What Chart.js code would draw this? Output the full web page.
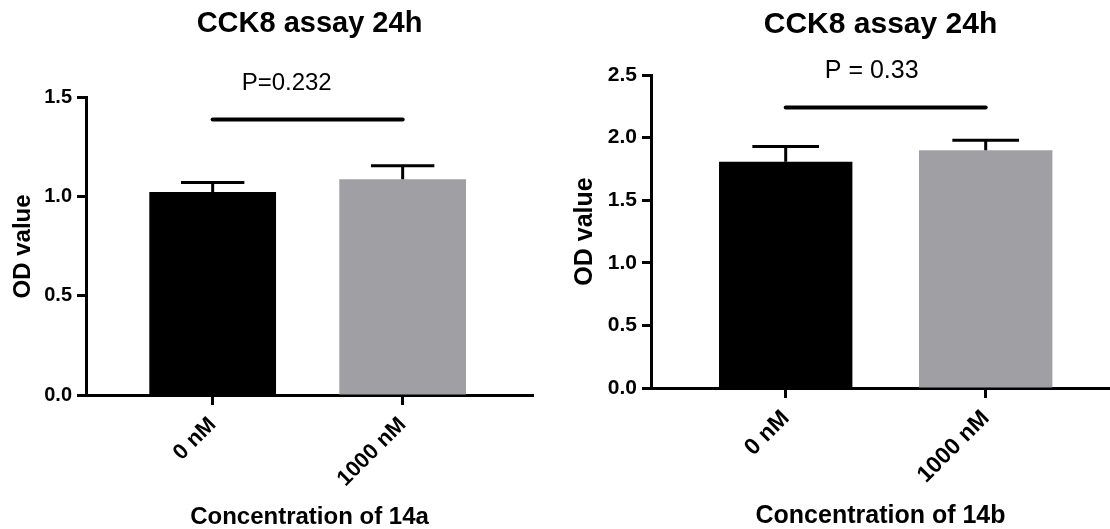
<!DOCTYPE html>
<html>
<head>
<meta charset="utf-8">
<title>CCK8 assay 24h</title>
<script src="https://cdn.jsdelivr.net/npm/chart.js@4.4.0/dist/chart.umd.min.js"></script>
<style>
  body { margin: 0; background: #fff; }
  #wrap { position: relative; width: 1110px; height: 529px; }
  canvas { position: absolute; top: 0; }
  #chartA { left: 0; }
  #chartB { left: 555px; }
</style>
</head>
<body>
<div id="wrap">
  <canvas id="chartA" width="555" height="529"></canvas>
  <canvas id="chartB" width="555" height="529"></canvas>
</div>
<script>
// groups (same for both panels)
const groups = ['0 nM', '1000 nM'];
const groupPos = [1, 2];
const barColors = ['#000000', '#a09fa4'];

// panel A - 14a
const meanA = [1.024, 1.089];
const sdA = [0.048, 0.068];
const yTicksA = [0, 0.5, 1.0, 1.5];
const sigLevelA = 1.39;
const pLabelA = 'P=0.232';

// panel B - 14b
const meanB = [1.808, 1.898];
const sdB = [0.12, 0.08];
const yTicksB = [0, 0.5, 1.0, 1.5, 2.0, 2.5];
const sigLevelB = 2.24;
const pLabelB = 'P = 0.33';

const FONT = "'Liberation Sans', Arial, sans-serif";

// mean + SD bars, then the bar over both groups with the p value
const errorBars = {
  id: 'errorBars',
  afterDatasetsDraw(chart, args, opts) {
    const ctx = chart.ctx;
    const x = chart.scales.x, y = chart.scales.y;
    const meta = chart.getDatasetMeta(0);
    ctx.save();
    ctx.strokeStyle = '#000';
    ctx.lineWidth = 3;
    opts.mean.forEach((m, i) => {
      const px = x.getPixelForValue(groupPos[i]);
      const half = meta.data[i].width / 4;
      const yTop = y.getPixelForValue(m);
      const yErr = y.getPixelForValue(m + opts.sd[i]);
      ctx.beginPath();
      ctx.moveTo(px, yTop);
      ctx.lineTo(px, yErr);
      ctx.moveTo(px - half, yErr);
      ctx.lineTo(px + half, yErr);
      ctx.stroke();
    });

    const x1 = x.getPixelForValue(groupPos[0]);
    const x2 = x.getPixelForValue(groupPos[1]);
    const ys = y.getPixelForValue(opts.sig);
    ctx.lineWidth = 4;
    ctx.lineCap = 'round';
    ctx.beginPath();
    ctx.moveTo(x1, ys);
    ctx.lineTo(x2, ys);
    ctx.stroke();

    ctx.fillStyle = '#000';
    ctx.font = opts.pSize + 'px ' + FONT;
    ctx.textAlign = 'center';
    ctx.textBaseline = 'middle';
    ctx.fillText(opts.text, (x1 + x2) / 2 + opts.textShift, ys - opts.textGap);
    ctx.restore();
  }
};

function makeChart(id, mean, sd, yTicks, sig, pText, xTitle, o) {
  const bold = size => ({ family: FONT, size: size, weight: 'bold' });
  return new Chart(document.getElementById(id), {
    type: 'bar',
    data: {
      datasets: [{
        data: mean.map((v, i) => ({ x: groupPos[i], y: v })),
        backgroundColor: barColors,
        borderWidth: 0,
        categoryPercentage: 1,
        barPercentage: 0.667
      }]
    },
    options: {
      responsive: false,
      animation: false,
      devicePixelRatio: 1,
      layout: { padding: { left: 0, right: o.padRight, top: 0, bottom: 0 } },
      plugins: {
        legend: { display: false },
        tooltip: { enabled: false },
        title: {
          display: true,
          text: 'CCK8 assay 24h',
          fullSize: false,
          color: '#000',
          font: bold(o.titleSize),
          padding: { top: o.titleTop, bottom: o.titleBottom }
        },
        errorBars: {
          mean: mean, sd: sd, sig: sig, text: pText,
          pSize: o.pSize, textShift: o.textShift, textGap: 36
        }
      },
      scales: {
        x: {
          type: 'linear',
          min: o.xMin,
          max: o.xMax,
          offset: false,
          z: 1,
          afterBuildTicks: ax => { ax.ticks = groupPos.map(v => ({ value: v })); },
          afterFit: ax => { ax.height = o.xAxisH; },
          ticks: {
            callback: (v, i) => groups[i],
            minRotation: 45,
            maxRotation: 45,
            color: '#000',
            font: bold(o.xTickSize),
            padding: 7
          },
          grid: {
            offset: false,
            drawOnChartArea: false,
            drawTicks: true,
            tickLength: 10,
            tickWidth: 3,
            tickColor: '#000'
          },
          border: { color: '#000', width: 3 },
          title: {
            display: true,
            text: xTitle,
            color: '#000',
            font: { family: FONT, size: o.axisTitleSize, weight: 'bold', lineHeight: 1 },
            padding: 0
          }
        },
        y: {
          min: yTicks[0],
          max: yTicks[yTicks.length - 1],
          z: 1,
          afterBuildTicks: ax => { ax.ticks = yTicks.map(v => ({ value: v })); },
          afterFit: ax => { ax.width = o.yAxisW; },
          ticks: {
            callback: v => v.toFixed(1),
            color: '#000',
            font: bold(o.tickSize),
            padding: 5
          },
          grid: {
            drawOnChartArea: false,
            drawTicks: true,
            tickLength: 9,
            tickWidth: 3,
            tickColor: '#000'
          },
          border: { color: '#000', width: 3 },
          title: {
            display: true,
            text: 'OD value',
            color: '#000',
            font: bold(o.axisTitleSize),
            padding: { top: o.yTitlePad, bottom: 0 }
          }
        }
      }
    },
    plugins: [errorBars]
  });
}

makeChart('chartA', meanA, sdA, yTicksA, sigLevelA, pLabelA, 'Concentration of 14a', {
  padRight: 22, yAxisW: 86, xAxisH: 134, xMin: 0.3333, xMax: 2.686,
  titleSize: 29, titleTop: 7, titleBottom: 56,
  tickSize: 20, xTickSize: 22, axisTitleSize: 24, yTitlePad: 9, pSize: 24, textShift: -21
});

makeChart('chartB', meanB, sdB, yTicksB, sigLevelB, pLabelB, 'Concentration of 14b', {
  padRight: 0, yAxisW: 96, xAxisH: 141, xMin: 0.3265, xMax: 2.6215,
  titleSize: 30, titleTop: 7, titleBottom: 32,
  tickSize: 21, xTickSize: 23, axisTitleSize: 25, yTitlePad: 15, pSize: 25, textShift: -14
});
</script>
</body>
</html>
